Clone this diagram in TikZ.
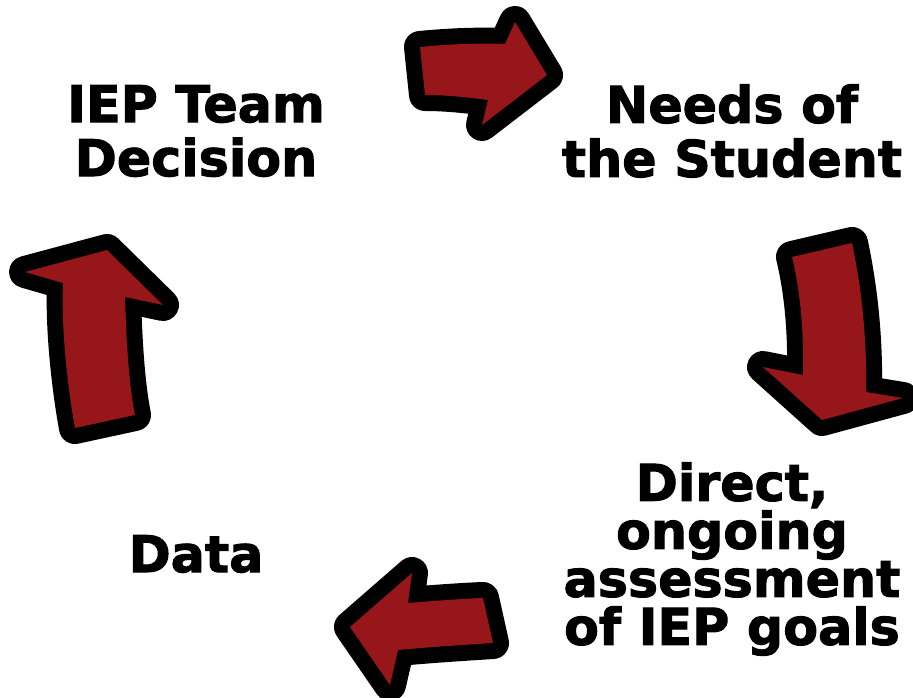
\documentclass[tikz,border=0pt]{standalone}
\usepackage{fontspec}
\setmainfont{DejaVu Sans}[BoldFeatures={FakeBold=2}]
\definecolor{arrowred}{RGB}{150,22,26}
\tikzset{
  blockarrow/.style={fill=arrowred, preaction={draw=black, line width=32pt, line join=round}},
  steplabel/.style={font=\fontsize{50.7}{54}\selectfont\bfseries, align=center, inner sep=0pt}
}
\begin{document}
\begin{tikzpicture}[x=1pt, y=-1pt]
  \useasboundingbox (0,0) rectangle (913,698);

  % labels
  \node[steplabel] (decision) at (196,131) {IEP Team\\Decision};
  \node[steplabel] (needs) at (732,131) {Needs of\\the Student};
  \node[steplabel, font=\fontsize{50.7}{48}\selectfont\bfseries] (assess) at (732,559) {Direct,\\ongoing\\assessment\\of IEP goals};
  \node[steplabel] (data) at (196,554) {Data};

  % arrows
  \path[blockarrow] (420,47) .. controls (450,44) and (480,43) .. (505,44) -- (515,22) -- (547,75)
    -- (482,125) -- (488,100) .. controls (465,97) and (445,95) .. (425,95) -- cycle;
  \path[blockarrow] (792,257) -- (852,243) .. controls (862,290) and (867,340) .. (866,392)
    -- (903,398) -- (822,420) -- (763,367) -- (803,375) .. controls (804,330) and (800,290) .. cycle;
  \path[blockarrow] (483,598) .. controls (458,599) and (433,601) .. (408,603) -- (412,573) -- (350,627)
    -- (390,685) -- (398,650) .. controls (430,647) and (462,645) .. (493,643) -- cycle;
  \path[blockarrow] (63,283) -- (25,272) -- (107,250) -- (163,305) -- (125,297)
    .. controls (126,330) and (128,380) .. (135,415) -- (75,428) .. controls (68,390) and (61,330) .. cycle;
\end{tikzpicture}
\end{document}
